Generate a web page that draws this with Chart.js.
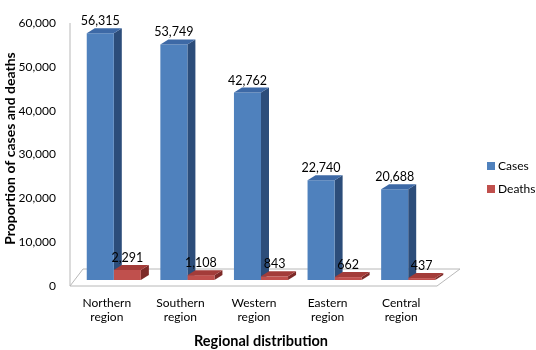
<!DOCTYPE html>
<html>
<head>
<meta charset="utf-8">
<script src="https://cdn.jsdelivr.net/npm/chart.js@4"></script>
<style>
  html, body { margin: 0; padding: 0; background: #fff; }
  #wrap { width: 536px; height: 350px; }
</style>
</head>
<body>
<div id="wrap"><canvas id="regionChart"></canvas></div>
<script>
const regions = [["Northern", "region"], ["Southern", "region"], ["Western", "region"], ["Eastern", "region"], ["Central", "region"]];
const cases = [56315, 53749, 42762, 22740, 20688];
const deaths = [2291, 1108, 843, 662, 437];
const yTicks = [0, 10000, 20000, 30000, 40000, 50000, 60000];

const FONT = "Lato, 'Open Sans', sans-serif";
const DX = 8, DY = -5;

const faces = {
    0: { front: '#4f81bd', side: '#2c4d7a', top: '#3d69a6' },
    1: { front: '#c0504d', side: '#7d2a28', top: '#a33c39' }
};

function numberWithCommas(x) {
    return x.toString().replace(/\B(?=(\d{3})+(?!\d))/g, ",");
}

const fake3d = {
    id: 'fake3d',
    beforeDatasetsDraw(chart) {
        const ctx = chart.ctx;
        const a = chart.chartArea;
        // floor
        ctx.save();
        ctx.strokeStyle = '#b8b8b8';
        ctx.lineWidth = 1;
        ctx.fillStyle = '#ffffff';
        ctx.beginPath();
        ctx.moveTo(a.left - 7, a.bottom + 6);
        ctx.lineTo(a.right - 8, a.bottom + 6);
        ctx.lineTo(a.right + 15, a.bottom - 11);
        ctx.lineTo(a.left + 6, a.bottom - 11);
        ctx.closePath();
        ctx.fill();
        ctx.stroke();
        // back axis line
        ctx.beginPath();
        ctx.moveTo(a.left - 7, a.top + 6);
        ctx.lineTo(a.left - 7, a.bottom + 6);
        ctx.stroke();
        // side faces
        chart.data.datasets.forEach((ds, i) => {
            chart.getDatasetMeta(i).data.forEach(bar => {
                const x2 = bar.x + bar.width / 2;
                ctx.fillStyle = faces[i].side;
                ctx.beginPath();
                ctx.moveTo(x2, bar.y);
                ctx.lineTo(x2 + DX, bar.y + DY);
                ctx.lineTo(x2 + DX, bar.base + DY);
                ctx.lineTo(x2, bar.base);
                ctx.closePath();
                ctx.fill();
            });
        });
        ctx.restore();
    },
    afterDatasetsDraw(chart) {
        const ctx = chart.ctx;
        ctx.save();
        chart.data.datasets.forEach((ds, i) => {
            chart.getDatasetMeta(i).data.forEach((bar, j) => {
                const x1 = bar.x - bar.width / 2;
                const x2 = bar.x + bar.width / 2;
                ctx.fillStyle = faces[i].top;
                ctx.beginPath();
                ctx.moveTo(x1, bar.y);
                ctx.lineTo(x2, bar.y);
                ctx.lineTo(x2 + DX, bar.y + DY);
                ctx.lineTo(x1 + DX, bar.y + DY);
                ctx.closePath();
                ctx.fill();
            });
        });
        // value labels
        ctx.fillStyle = '#000';
        ctx.font = "12.5px " + FONT;
        ctx.textAlign = 'center';
        ctx.textBaseline = 'middle';
        chart.data.datasets.forEach((ds, i) => {
            chart.getDatasetMeta(i).data.forEach((bar, j) => {
                ctx.fillText(numberWithCommas(ds.data[j]), bar.x, bar.y - 12);
            });
        });
        ctx.restore();
    },
    afterDraw(chart) {
        // legend on the right
        const ctx = chart.ctx;
        const a = chart.chartArea;
        ctx.save();
        ctx.font = "12px " + FONT;
        ctx.textBaseline = 'middle';
        ctx.textAlign = 'left';
        chart.data.datasets.forEach((ds, i) => {
            const y = 166 + i * 23;
            const x = a.right + 42;
            ctx.fillStyle = faces[i].front;
            ctx.fillRect(x, y - 4, 8, 8);
            ctx.fillStyle = '#000';
            ctx.fillText(ds.label, x + 11, y);
        });
        ctx.restore();
    }
};

new Chart(document.getElementById('regionChart'), {
    type: 'bar',
    data: {
        labels: regions,
        datasets: [
            { label: 'Cases', data: cases, backgroundColor: faces[0].front },
            { label: 'Deaths', data: deaths, backgroundColor: faces[1].front }
        ]
    },
    options: {
        responsive: true,
        maintainAspectRatio: false,
        animation: false,
        categoryPercentage: 0.735,
        barPercentage: 1,
        layout: { padding: { top: 17, right: 91, left: 0, bottom: 0 } },
        plugins: { legend: { display: false }, tooltip: { enabled: false } },
        scales: {
            x: {
                afterFit: axis => { axis.height = 70; },
                grid: { display: false, drawTicks: false },
                border: { display: false },
                ticks: { color: '#000', font: { family: FONT, size: 12 }, padding: 16, labelOffset: -7, maxRotation: 0 },
                title: { display: true, text: 'Regional distribution', color: '#000', font: { family: FONT, size: 14.5, weight: 'bold' }, padding: { top: 0, bottom: 0 } }
            },
            y: {
                min: 0,
                max: 60000,
                afterBuildTicks: axis => { axis.ticks = yTicks.map(v => ({ value: v })); },
                afterFit: axis => { axis.width = 77; axis.paddingTop = 0; axis.paddingBottom = 0; },
                grid: { display: false, drawTicks: false },
                border: { display: false },
                ticks: { color: '#000', font: { family: FONT, size: 12 }, padding: 21, labelOffset: 6, callback: v => numberWithCommas(v) },
                title: { display: true, text: 'Proportion of cases and deaths', color: '#000', font: { family: FONT, size: 14, weight: 'bold' }, padding: { top: 2, bottom: 4 } }
            }
        }
    },
    plugins: [fake3d]
});
</script>
</body>
</html>
